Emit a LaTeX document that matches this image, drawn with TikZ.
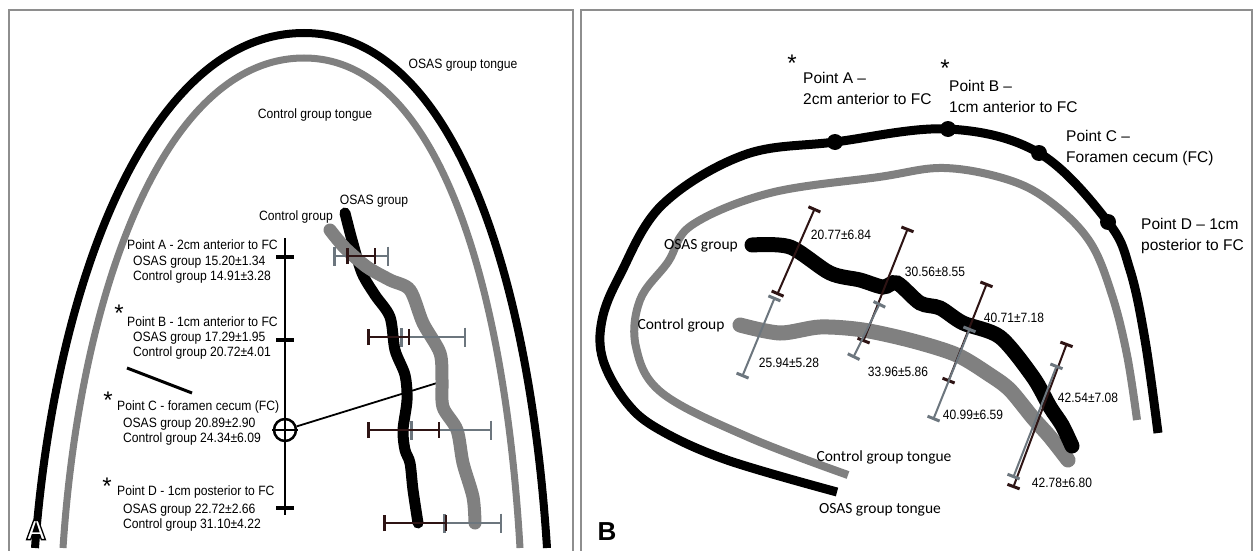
\documentclass[tikz,border=0pt]{standalone}
\usepackage{fontspec}
\setmainfont{Liberation Sans}
\newfontfamily\carlito{Carlito}
\usetikzlibrary{arrows.meta}

\definecolor{tongue}{HTML}{808080}
\definecolor{bargray}{HTML}{6C767E}
\definecolor{bardark}{HTML}{2E1414}
\definecolor{panel}{HTML}{8E8E8E}

% outlined letter: white fill, black stroke
\newcommand{\hollow}[1]{\special{pdf:literal direct 1 g 0 G 2 Tr 1.3 w}#1\special{pdf:literal direct 0 Tr}}

\begin{document}
\begin{tikzpicture}[x=1pt,y=-1pt,
  panelbox/.style={draw=panel,line width=1.3pt},
  txtA/.style={font=\fontsize{13.5}{15}\selectfont,xscale=0.9,inner sep=0pt},
  txtB/.style={font=\fontsize{15.5}{21}\selectfont,inner sep=0pt,align=left},
  numB/.style={font=\fontsize{13.5}{15}\selectfont,xscale=0.89,inner sep=0pt},
  lblB/.style={font=\carlito\fontsize{15.5}{17}\selectfont,inner sep=0pt},
  star/.style={font=\fontsize{24}{24}\selectfont,inner sep=0pt},
  errgray/.style={bargray,line width=2.5pt,{Bar[width=19pt]}-{Bar[width=19pt]}},
  errdark/.style={bardark,line width=2.5pt,{Bar[width=16pt]}-{Bar[width=16pt]}},
  errB/.style={line width=2pt,{Bar[width=13pt,line width=3pt]}-{Bar[width=13pt,line width=3pt]}},
  dot/.style={circle,fill,inner sep=0pt,minimum size=16pt}]

\useasboundingbox (0,0) rectangle (1255,551);
\fill[white] (0,0) rectangle (1255,551);
\draw[panelbox] (9,560) |- (573,10) -- (573,560);
\draw[panelbox] (581,560) |- (1252,10) -- (1252,560);

% A: outlines of both tongues
\draw[line width=8pt] (35,548) .. controls (55,280) and (150,33) .. (304,33)
  .. controls (455,33) and (530,280) .. (547,548);
\draw[tongue,line width=7pt] (63,548) .. controls (80,290) and (165,58) .. (304,58)
  .. controls (440,58) and (505,290) .. (520,548);
\node[txtA] (osasTA) at (463,65) {OSAS group tongue};
\node[txtA] (ctrlTA) at (315,115) {Control group tongue};

% A: midline with the four points
\coordinate (mtop) at (285,238);
\coordinate (mbot) at (285,515);
\draw[line width=2.5pt] (mtop) -- (mbot);
\foreach \y in {257,340,508} \draw[line width=3.5pt] (276,\y) -- (294,\y);
\node[circle,draw,line width=2.5pt,minimum size=22pt,inner sep=0pt] (fc) at (285,430) {};
\draw[line width=2.5pt] (272,430) -- (298,430);
\coordinate (fcEnd) at (437,383);
\draw[line width=1.8pt] (fc) -- (fcEnd);
\draw[line width=3pt] (127,368) -- (192,393);

\foreach \n/\x/\y/\t in {A/127/245/Point A - 2cm anterior to FC,
    B/127/322/Point B - 1cm anterior to FC,
    C/117/407/Point C - foramen cecum (FC),
    D/117/492/Point D - 1cm posterior to FC}
  \node[txtA,anchor=west] (pt\n) at (\x,\y) {\t};
\foreach \n/\x/\y/\o/\c in {A/133/262/15.20±1.34/14.91±3.28,
    B/133/338/17.29±1.95/20.72±4.01,
    C/123/424/20.89±2.90/24.34±6.09,
    D/123/510/22.72±2.66/31.10±4.22}{
  \node[txtA,anchor=west] (os\n) at (\x,\y) {OSAS group \o};
  \node[txtA,anchor=west] (co\n) at (\x,\y+15) {Control group \c};
}
\foreach \n/\x/\y in {B/119/305,C/108/392,D/107/478}
  \node[star,anchor=north] (starA\n) at (\x,\y) {*};

% A: airway profiles
\draw[line width=11pt,line cap=round] plot[smooth,tension=0.5] coordinates {(345,213) (352,240)
  (362,273) (375,295) (390,317) (395,350) (405,375) (407,400) (403,430) (405,450) (410,463)
  (413,490) (418,523)};
\draw[tongue,line width=13pt,line cap=round] plot[smooth,tension=0.5] coordinates {(330,230)
  (345,248) (367,267) (390,280) (410,290) (423,323) (440,353) (442,380) (443,407) (457,430)
  (463,463) (473,497) (475,523)};
\node[txtA] (osasA) at (374,201) {OSAS group};
\node[txtA] (ctrlA) at (296,217) {Control group};
\foreach \y/\a/\b/\c/\d in {256/346/376/333/389, 337/367/410/400/466,
    430/367/440/410/492, 523/383/447/443/502}{
  \draw[errgray] (\c,\y) -- (\d,\y);
  \draw[errdark] (\a,\y) -- (\b,\y);
}

% B: outlines of both tongues, side view
\draw[line width=9pt] plot[smooth,tension=0.6] coordinates {(837,492) (727,460) (660,430)
  (627,403) (603,360) (602,320) (620,275) (662,205) (744,155) (835,142) (948,129) (1039,153)
  (1108,222) (1130,270) (1145,340) (1158,433)};
\draw[tongue,line width=8pt] plot[smooth,tension=0.6] coordinates {(848,475) (748,437)
  (662,393) (636,347) (640,300) (668,262) (692,225) (770,193) (879,177) (944,168) (1009,180)
  (1052,203) (1090,242) (1112,295) (1127,355) (1137,420)};
\foreach \p/\x/\y in {A/835/142, B/948/129, C/1039/153, D/1108/222}
  \node[dot] (dot\p) at (\x,\y) {};
\node[star,anchor=north] (starBa) at (792,55) {*};
\node[star,anchor=north] (starBb) at (945,60) {*};
\node[txtB,anchor=north west] (ptBa) at (803,72) {Point A --\\2cm anterior to FC};
\node[txtB,anchor=north west] (ptBb) at (949,80) {Point B --\\1cm anterior to FC};
\node[txtB,anchor=north west] (ptBc) at (1066,130) {Point C --\\Foramen cecum (FC)};
\node[txtB,anchor=north west] (ptBd) at (1141,218) {Point D -- 1cm\\posterior to FC};

% B: airway profiles
\draw[tongue,line width=15pt,line cap=round] plot[smooth,tension=0.5] coordinates {(740,325)
  (780,333) (820,327) (863,330) (913,341) (957,355) (990,375) (1010,390) (1033,418)
  (1050,437) (1068,460)};
\draw[line width=15pt,line cap=round] plot[smooth,tension=0.5] coordinates {(752,245) (790,247)
  (830,273) (860,280) (883,287) (897,283) (920,303) (940,308) (963,323) (1000,337) (1033,377)
  (1050,407) (1062,425) (1072,446)};
\foreach \a/\b/\c/\d in {815/208/777/295, 908/228/863/342, 987/283/948/382, 1067/343/1013/488}
  \draw[errB,bardark] (\a,\b) -- (\c,\d);
\foreach \a/\b/\c/\d in {775/297/742/377, 880/303/853/358, 970/328/933/420, 1057/365/1013/478}
  \draw[errB,bargray] (\a,\b) -- (\c,\d);
\foreach \n/\x/\y/\t in {a/841/235/20.77±6.84, b/935/272/30.56±8.55, c/1014/318/40.71±7.18,
    d/1088/398/42.54±7.08, e/789/363/25.94±5.28, f/898/372/33.96±5.86, g/973/415/40.99±6.59,
    h/1062/483/42.78±6.80}
  \node[numB] (num\n) at (\x,\y) {\t};
\node[lblB] (osasB) at (701,246) {OSAS group};
\node[lblB] (ctrlB) at (681,325) {Control group};
\node[lblB] (ctrlTB) at (884,457) {Control group tongue};
\node[lblB] (osasTB) at (880,510) {OSAS group tongue};

\node[font=\fontsize{26}{26}\selectfont\bfseries,inner sep=0pt] (labB) at (607,532) {B};
\node[font=\fontsize{28}{28}\selectfont\bfseries,inner sep=0pt] (labA) at (36,530) {\hollow{A}};
\end{tikzpicture}
\end{document}
